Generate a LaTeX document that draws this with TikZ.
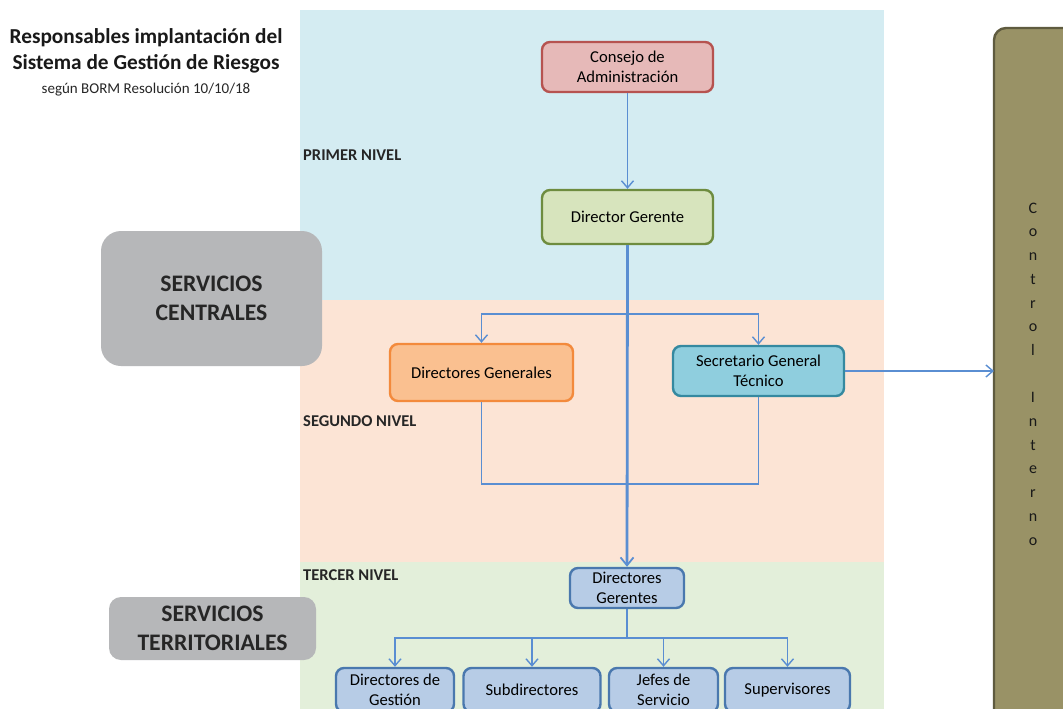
\documentclass[tikz,border=0pt]{standalone}
\usepackage{fontspec}
\setmainfont{Carlito}
\usetikzlibrary{arrows.meta}
\definecolor{bandblue}{HTML}{D4ECF2}
\definecolor{bandpeach}{HTML}{FCE4D5}
\definecolor{bandgreen}{HTML}{E3EFDA}
\definecolor{lineblue}{HTML}{5A8ED2}
\definecolor{graybox}{HTML}{B6B7B9}
\definecolor{olivefill}{HTML}{999266}
\definecolor{olivedraw}{HTML}{5F5B3F}
\definecolor{redfill}{HTML}{E6B9B8}
\definecolor{reddraw}{HTML}{B65350}
\definecolor{greenfill}{HTML}{D7E4BD}
\definecolor{greendraw}{HTML}{6E8C3F}
\definecolor{orangefill}{HTML}{FAC090}
\definecolor{orangedraw}{HTML}{F38A3C}
\definecolor{cyanfill}{HTML}{8FCEDE}
\definecolor{cyandraw}{HTML}{3589A0}
\definecolor{bluefill}{HTML}{B7CCE6}
\definecolor{bluedraw}{HTML}{4A78AE}
\tikzset{
  orgbox/.style={draw, rounded corners=8pt, line width=2.4pt, align=center,
    font=\fontsize{16.6}{20}\selectfont, inner sep=2pt},
  bluebox/.style={orgbox, fill=bluefill, draw=bluedraw},
  conn/.style={draw=lineblue, line width=1.7pt},
  arr/.style={conn, -{Straight Barb[length=7pt,width=12pt,line width=1.4pt]}},
  lvl/.style={anchor=west, inner sep=0pt, font=\bfseries\fontsize{16.5}{18}\selectfont, text=black!85},
  svc/.style={fill=graybox, rounded corners=20pt, align=center,
    font=\bfseries\fontsize{23.7}{29}\selectfont, text=black!85}
}
\begin{document}
\begin{tikzpicture}[x=1pt,y=-1pt]
\useasboundingbox (0,0) rectangle (1063,709);
\clip (0,0) rectangle (1063,709);
\fill[white] (0,0) rectangle (1063,709);
% bands
\fill[bandblue] (300,10) rectangle (884,300);
\fill[bandpeach] (300,300) rectangle (884,562);
\fill[bandgreen] (300,562) rectangle (884,720);
% title
\node[font=\bfseries\fontsize{21.3}{26}\selectfont, align=center, text=black!90] (title) at (146,51)
  {Responsables implantación del\\Sistema de Gestión de Riesgos};
\node[font=\fontsize{15}{17}\selectfont, text=black!85] (sub) at (146,89.5) {según BORM Resolución 10/10/18};
% level labels
\node[lvl] (l1) at (303,155) {PRIMER NIVEL};
\node[lvl] (l2) at (303,421) {SEGUNDO NIVEL};
\node[lvl] (l3) at (303,575) {TERCER NIVEL};
% service boxes
\node[svc, minimum width=221pt, minimum height=135pt] (sc) at (211.5,298.5) {SERVICIOS\\CENTRALES};
\node[svc, rounded corners=12pt, minimum width=207pt, minimum height=63pt] (st) at (212.5,628.5) {SERVICIOS\\TERRITORIALES};
% control interno
\draw[fill=olivefill, draw=olivedraw, line width=2.4pt, rounded corners=12pt] (994,28) rectangle (1080,725);
\node[align=center, font=\fontsize{16}{23.7}\selectfont, text=black!90] (ci) at (1033,374)
  {C\\o\\n\\t\\r\\o\\l\\\mbox{}\\I\\n\\t\\e\\r\\n\\o};
\coordinate (ciin) at (994,371);
% org boxes
\node[orgbox, fill=redfill, draw=reddraw, minimum width=171pt, minimum height=50pt] (consejo) at (627.5,67) {Consejo de\\Administración};
\node[orgbox, fill=greenfill, draw=greendraw, minimum width=171pt, minimum height=54pt] (dg) at (627.5,217) {Director Gerente};
\node[orgbox, fill=orangefill, draw=orangedraw, minimum width=183pt, minimum height=57pt] (dgen) at (481.5,372.5) {Directores Generales};
\node[orgbox, fill=cyanfill, draw=cyandraw, minimum width=171pt, minimum height=50pt] (sgt) at (758.5,371) {Secretario General\\Técnico};
\node[bluebox, minimum width=114pt, minimum height=40pt] (dgr) at (627,588) {Directores\\Gerentes};
\node[bluebox, minimum width=118pt, minimum height=44pt] (b1) at (395,690) {Directores de\\Gestión};
\node[bluebox, minimum width=137pt, minimum height=44pt] (b2) at (532,690) {Subdirectores};
\node[bluebox, minimum width=109pt, minimum height=44pt] (b3) at (663.5,690) {Jefes de\\Servicio};
\node[bluebox, minimum width=125pt, minimum height=44pt] (b4) at (787.5,690) {Supervisores};
% connectors
\draw[arr] (consejo.south) -- (dg.north);
\draw[conn, line width=2.8pt, -{Straight Barb[length=8pt,width=13pt,line width=1.8pt]}] (dg.south) -- (dgr.north);
\coordinate (j1) at (627,314);
\draw[arr] (j1) -| (dgen.north);
\draw[arr] (j1) -| (sgt.north);
\coordinate (j2) at (627,484);
\draw[conn] (dgen.south) |- (j2);
\draw[conn] (sgt.south) |- (j2);
\draw[arr] (sgt.east) -- (ciin);
\coordinate (j3) at (627,638);
\draw[conn] (dgr.south) -- (j3);
\draw[arr] (j3) -| (b1.north);
\draw[arr] (j3) -| (b2.north);
\draw[arr] (j3) -| (b3.north);
\draw[arr] (j3) -| (b4.north);
\end{tikzpicture}
\end{document}
